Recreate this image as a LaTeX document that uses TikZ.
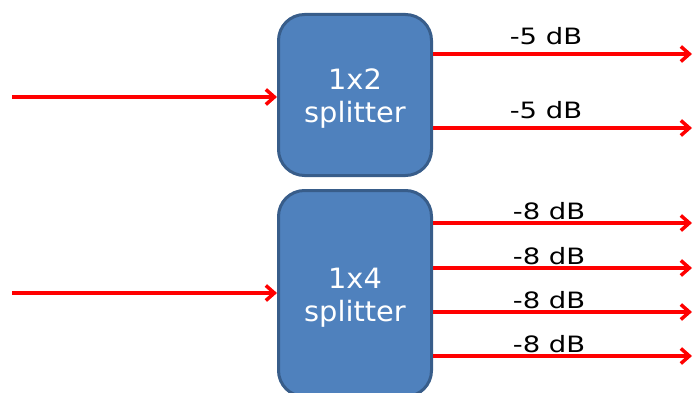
\documentclass[tikz,border=0pt]{standalone}
\usepackage{fontspec}
\setmainfont{DejaVu Sans}[FakeStretch=1.03]
\newfontfamily\dbfont{DejaVu Sans}[FakeStretch=1.22]
\usetikzlibrary{arrows.meta}
\definecolor{boxfill}{HTML}{4F81BD}
\definecolor{boxline}{HTML}{385D8A}
\tikzset{
  splitbox/.style={draw=boxline, line width=3pt, fill=boxfill, rounded corners=26pt,
    minimum width=153pt},
  boxtext/.style={text=white, align=center, yshift=-4pt, font=\fontsize{28}{33}\selectfont},
  sig/.style={red, line width=3.5pt, -{Straight Barb[length=8.5pt,width=15pt]}},
  dblabel/.style={anchor=base, text=black, font=\dbfont\fontsize{22.5}{22.5}\selectfont}
}
\begin{document}
\begin{tikzpicture}[x=1pt,y=1pt]
  \useasboundingbox (0,0) rectangle (693,392);
  \node[splitbox, minimum height=161pt, label={[boxtext]center:1x2\\splitter}] (split2) at (355,297) {};
  \node[splitbox, minimum height=206pt, label={[boxtext]center:1x4\\splitter}] (split4) at (355,98.5) {};
  \coordinate (in2) at (12,295);
  \coordinate (in4) at (12,99);
  \draw[sig] (in2) -- (in2 -| split2.west);
  \draw[sig] (in4) -- (in4 -| split4.west);
  % outputs
  \foreach \y/\n in {338/a,264/b} {
    \coordinate (out2\n) at (692,\y);
    \draw[sig] (out2\n -| split2.east) -- (out2\n) node[dblabel, pos=0.436, yshift=10pt] {-5 dB};
  }
  \foreach \y/\n in {169/a,124/b,80/c,36/d} {
    \coordinate (out4\n) at (692,\y);
    \draw[sig] (out4\n -| split4.east) -- (out4\n) node[dblabel, pos=0.448, yshift=4pt] {-8 dB};
  }
\end{tikzpicture}
\end{document}
